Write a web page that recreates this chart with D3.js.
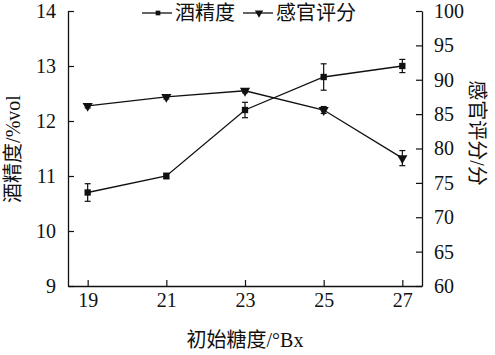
<!DOCTYPE html>
<html>
<head>
<meta charset="utf-8">
<script src="https://cdn.jsdelivr.net/npm/d3@7"></script>
<style>
  body { margin: 0; background: #fff; }
  svg text { font-family: "Liberation Serif", "Times New Roman", "Noto Sans CJK SC", serif; fill: #111; }
</style>
</head>
<body>
<div id="chart"></div>
<script>
const sugar = [19, 21, 23, 25, 27];
const alcohol = [10.7, 11.0, 12.2, 12.8, 13.0];
const alcoholErr = [0.16, 0.05, 0.14, 0.24, 0.12];
const score = [86.2, 87.5, 88.4, 85.6, 78.6];
const scoreErr = [0.3, 0.3, 0.3, 0.5, 1.1];
const leftTicks = [9, 10, 11, 12, 13, 14];
const rightTicks = [60, 65, 70, 75, 80, 85, 90, 95, 100];

const width = 495, height = 355;
const margin = { top: 11, right: 73, bottom: 69, left: 68 };
const w = width - margin.left - margin.right;
const h = height - margin.top - margin.bottom;
const font = '"Liberation Serif", "Times New Roman", "Noto Sans CJK SC", serif';

const svg = d3.select("#chart").append("svg")
    .attr("width", width)
    .attr("height", height);

const g = svg.append("g")
    .attr("transform", `translate(${margin.left}, ${margin.top})`);

const x = d3.scaleLinear().domain([18.5, 27.5]).range([0, w]);
const yL = d3.scaleLinear().domain([9, 14]).range([h, 0]);
const yR = d3.scaleLinear().domain([60, 100]).range([h, 0]);

// axes, ticks point inward
function styleAxis(sel) {
    sel.attr("font-family", font);
    sel.select(".domain").attr("stroke", "#111").attr("stroke-width", 1.3);
    sel.selectAll(".tick line").attr("stroke", "#111").attr("stroke-width", 1.2);
    sel.selectAll(".tick text").style("font-size", "20px");
}

g.append("g")
    .attr("transform", `translate(0, ${h})`)
    .call(d3.axisBottom(x).tickValues(sugar).tickFormat(d3.format("d")).tickSizeInner(-6).tickSizeOuter(0).tickPadding(7))
    .call(styleAxis);

g.append("g")
    .call(d3.axisLeft(yL).tickValues(leftTicks).tickFormat(d3.format("d")).tickSizeInner(-6).tickSizeOuter(0).tickPadding(12))
    .call(styleAxis);

g.append("g")
    .attr("transform", `translate(${w}, 0)`)
    .call(d3.axisRight(yR).tickValues(rightTicks).tickFormat(d3.format("d")).tickSizeInner(-6).tickSizeOuter(0).tickPadding(12))
    .call(styleAxis);

const alcData = sugar.map((s, i) => ({ s, v: alcohol[i], e: alcoholErr[i] }));
const scoreData = sugar.map((s, i) => ({ s, v: score[i], e: scoreErr[i] }));

function drawSeries(data, y, symbolType, size) {
    g.append("path")
        .datum(data)
        .attr("fill", "none")
        .attr("stroke", "#111")
        .attr("stroke-width", 1.3)
        .attr("d", d3.line().x(d => x(d.s)).y(d => y(d.v)));

    const eb = g.append("g").attr("stroke", "#111").attr("stroke-width", 1.2);
    data.forEach(d => {
        const x0 = x(d.s), y1 = y(d.v + d.e), y2 = y(d.v - d.e);
        eb.append("line").attr("x1", x0).attr("x2", x0).attr("y1", y1).attr("y2", y2);
        eb.append("line").attr("x1", x0 - 3).attr("x2", x0 + 3).attr("y1", y1).attr("y2", y1);
        eb.append("line").attr("x1", x0 - 3).attr("x2", x0 + 3).attr("y1", y2).attr("y2", y2);
    });

    g.selectAll(null)
        .data(data)
        .enter()
        .append("path")
        .attr("d", d3.symbol().type(symbolType).size(size))
        .attr("transform", d => `translate(${x(d.s)}, ${y(d.v)})${symbolType === d3.symbolTriangle ? " rotate(180)" : ""}`)
        .attr("fill", "#111");
}

drawSeries(alcData, yL, d3.symbolSquare, 40);
drawSeries(scoreData, yR, d3.symbolTriangle, 45);

// legend
const legend = svg.append("g");
const items = [
    { label: "酒精度", type: d3.symbolSquare, size: 22, x0: 142 },
    { label: "感官评分", type: d3.symbolTriangle, size: 30, x0: 243 }
];
items.forEach(it => {
    legend.append("line")
        .attr("x1", it.x0).attr("x2", it.x0 + 30)
        .attr("y1", 13).attr("y2", 13)
        .attr("stroke", "#111").attr("stroke-width", 1.3);
    legend.append("path")
        .attr("d", d3.symbol().type(it.type).size(it.size))
        .attr("transform", `translate(${it.x0 + 16}, 13)${it.type === d3.symbolTriangle ? " rotate(180)" : ""}`)
        .attr("fill", "#111");
    legend.append("text")
        .attr("x", it.x0 + 33)
        .attr("y", 20)
        .style("font-size", "20px")
        .text(it.label);
});

// axis titles
svg.append("text")
    .attr("x", margin.left + w / 2)
    .attr("y", 347)
    .attr("text-anchor", "middle")
    .style("font-size", "20px")
    .text("初始糖度/°Bx");

svg.append("text")
    .attr("transform", `translate(20, 149) rotate(-90)`)
    .attr("text-anchor", "middle")
    .style("font-size", "20px")
    .text("酒精度/%vol");

svg.append("text")
    .attr("transform", `translate(470, 133) rotate(90)`)
    .attr("text-anchor", "middle")
    .style("font-size", "20px")
    .text("感官评分/分");
</script>
</body>
</html>
